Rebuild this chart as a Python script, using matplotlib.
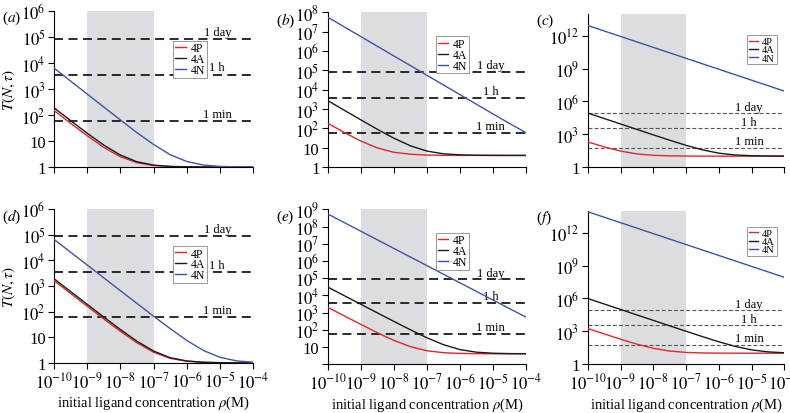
import numpy as np
import matplotlib
matplotlib.use("Agg")
import matplotlib.pyplot as plt
from matplotlib.ticker import FixedLocator, NullLocator

plt.rcParams['font.family'] = ['Liberation Serif', 'DejaVu Serif']
plt.rcParams['mathtext.fontset'] = 'stix'

# log10 of the initial ligand concentration (M), half-decade steps
log_rho = [-10, -9.5, -9, -8.5, -8, -7.5, -7, -6.5, -6, -5.5, -5, -4.5, -4]

# T(N, tau)
red_a = [150, 48, 16, 5.7, 2.5, 1.47, 1.15, 1.05, 1.02, 1.01, 1.0, 1.0, 1.0]
black_a = [190, 61, 20, 7.0, 2.9, 1.6, 1.19, 1.06, 1.02, 1.01, 1.0, 1.0, 1.0]
blue_a = [6400, 2025, 641, 203, 65, 21, 7.4, 3.0, 1.64, 1.2, 1.06, 1.02, 1.01]

red_b = [184, 61, 22, 9.7, 5.8, 4.6, 4.18, 4.06, 4.02, 4.01, 4.0, 4.0, 4.0]
black_b = [2700, 858, 274, 89, 31, 12.5, 6.7, 4.85, 4.27, 4.09, 4.03, 4.01, 4.0]
blue_b = [5.5e7, 1.74e7, 5.5e6, 1.74e6, 5.5e5, 1.74e5, 5.5e4, 1.74e4, 5500, 1744, 554, 178, 59]

red_c = [200, 70, 29, 16, 11.9, 10.6, 10.2, 10.06, 10.02, 10.0, 10.0, 10.0, 10.0]
black_c = [87000, 27500, 8700, 2760, 880, 285, 97, 37.5, 18.7, 12.75, 10.9, 10.3, 10.1]
blue_c = [8.7e12, 2.75e12, 8.7e11, 2.75e11, 8.7e10, 2.75e10, 8.7e9, 2.75e9, 8.7e8, 2.75e8, 8.7e7, 2.75e7, 8.7e6]

red_d = [1600, 507, 161, 51.6, 17, 6.06, 2.6, 1.5, 1.16, 1.05, 1.016, 1.005, 1.0]
black_d = [1900, 602, 191, 61, 20, 7.0, 2.9, 1.6, 1.19, 1.06, 1.02, 1.006, 1.0]
blue_d = [65000, 20550, 6500, 2056, 651, 207, 66, 21.6, 7.5, 3.06, 1.65, 1.2, 1.065]

red_e = [2000, 636, 204, 67, 24, 10.3, 6.0, 4.63, 4.2, 4.06, 4.02, 4.0, 4.0]
black_e = [30000, 9490, 3000, 953, 304, 99, 34, 13.5, 7.0, 4.95, 4.3, 4.1, 4.03]
blue_e = [5.3e8, 1.68e8, 5.3e7, 1.68e7, 5.3e6, 1.68e6, 5.3e5, 1.68e5, 5.3e4, 1.68e4, 5300, 1680, 534]

red_f = [1810, 579, 190, 67, 28, 15.7, 11.8, 10.57, 10.18, 10.06, 10.02, 10.0, 10.0]
black_f = [1e6, 3.16e5, 1e5, 3.16e4, 1e4, 3170, 1010, 326, 110, 41.6, 20, 13.2, 11]
blue_f = [8.5e13, 2.69e13, 8.5e12, 2.69e12, 8.5e11, 2.69e11, 8.5e10, 2.69e10, 8.5e9, 2.69e9, 8.5e8, 2.69e8, 8.5e7]

# time scales in seconds
time_labels = ['1 min', '1 h', '1 day']
time_values = [60, 3600, 86400]

series_names = ['4P', '4A', '4N']
series_colors = ['#e3262b', '#1a1a1a', '#3b56a6']

x_exps = [-10, -9, -8, -7, -6, -5, -4]
shade = (1e-9, 1e-7)


def pow_label(e):
    if e == 0:
        return '1'
    if e == 1:
        return '10'
    return r'$10^{%d}$' % e


panels = [
    # letter, curves, y exponents of ticks, ymax exp, pos, legend anchor, style
    ('a', (red_a, black_a, blue_a), [0, 1, 2, 3, 4, 5, 6], 6,
     [0.0684, 0.594, 0.252, 0.377], (0.6, 0.81), 'big'),
    ('b', (red_b, black_b, blue_b), list(range(0, 9)), 8,
     [0.415, 0.594, 0.251, 0.374], (0.545, 0.845), 'big'),
    ('c', (red_c, black_c, blue_c), [0, 3, 6, 9, 12], 14,
     [0.744, 0.594, 0.249, 0.37], (0.81, 0.86), 'small'),
    ('d', (red_d, black_d, blue_d), [0, 1, 2, 3, 4, 5, 6], 6,
     [0.0684, 0.121, 0.252, 0.372], (0.6, 0.76), 'big'),
    ('e', (red_e, black_e, blue_e), list(range(0, 10)), 9,
     [0.415, 0.118, 0.251, 0.374], (0.545, 0.85), 'big'),
    ('f', (red_f, black_f, blue_f), [0, 3, 6, 9, 12], 14,
     [0.744, 0.118, 0.249, 0.37], (0.81, 0.895), 'small'),
]

fig = plt.figure(figsize=(7.9, 4.14), dpi=100)
rho = [10.0 ** e for e in log_rho]

for i, (letter, curves, yexps, ymax, pos, leg_xy, style) in enumerate(panels):
    ax = fig.add_axes(pos)
    ax.set_xscale('log')
    ax.set_yscale('log')
    ax.axvspan(shade[0], shade[1], color='#dcdde0', lw=0, zorder=0)

    if style == 'big':
        dash_kw = dict(color='#1a1a1a', lw=1.3, dashes=(5, 3))
    else:
        dash_kw = dict(color='#555555', lw=0.8, dashes=(3.5, 2))
    for lab, tv in zip(time_labels, time_values):
        ax.axhline(tv, zorder=1, **dash_kw)
        ax.text(0.82, tv * 1.1, lab, transform=ax.get_yaxis_transform(),
                ha='center', va='bottom', fontsize=9, zorder=2)

    for vals, name, col in zip(curves, series_names, series_colors):
        ax.plot(rho, vals, color=col, lw=1.0, label=name, zorder=3)

    ax.set_xlim(1e-10, 1e-4)
    ax.set_ylim(1, 10.0 ** ymax)
    ax.xaxis.set_major_locator(FixedLocator([10.0 ** e for e in x_exps]))
    ax.xaxis.set_minor_locator(NullLocator())
    ax.yaxis.set_major_locator(FixedLocator([10.0 ** e for e in yexps]))
    ax.yaxis.set_minor_locator(NullLocator())
    ylabs = [pow_label(e) for e in yexps]
    if letter == 'e':
        ylabs[0] = ''
    ax.set_yticklabels(ylabs)
    if i >= 3:
        ax.set_xticklabels([pow_label(e) for e in x_exps])
        ax.set_xlabel(r'initial ligand concentration $\rho$(M)', fontsize=10.5, labelpad=2)
    else:
        ax.set_xticklabels([])
    ax.tick_params(direction='out', length=4, width=0.8, labelsize=12, pad=2)
    for s in ['top', 'right']:
        ax.spines[s].set_visible(False)
    for s in ['left', 'bottom']:
        ax.spines[s].set_linewidth(0.8)

    fs = 8.5 if style == 'big' else 7.5
    leg = ax.legend(loc='upper left', bbox_to_anchor=leg_xy, fontsize=fs,
                    handlelength=0.9, handletextpad=0.4, borderpad=0.15,
                    labelspacing=-0.1, borderaxespad=0, frameon=True,
                    fancybox=False, edgecolor='#888888', framealpha=1)
    leg.get_frame().set_linewidth(0.6)
    leg.set_zorder(5)

    fig.text(pos[0] - 0.066, pos[1] + pos[3] + 0.005, '($%s$)' % letter,
             fontsize=11, ha='left', va='top')

    if i % 3 == 0:
        fig.text(0.012, pos[1] + pos[3] * 0.5, r'$T(N,\tau)$', fontsize=11,
                 rotation=90, ha='center', va='center')

fig.savefig('out.png', dpi=100)
